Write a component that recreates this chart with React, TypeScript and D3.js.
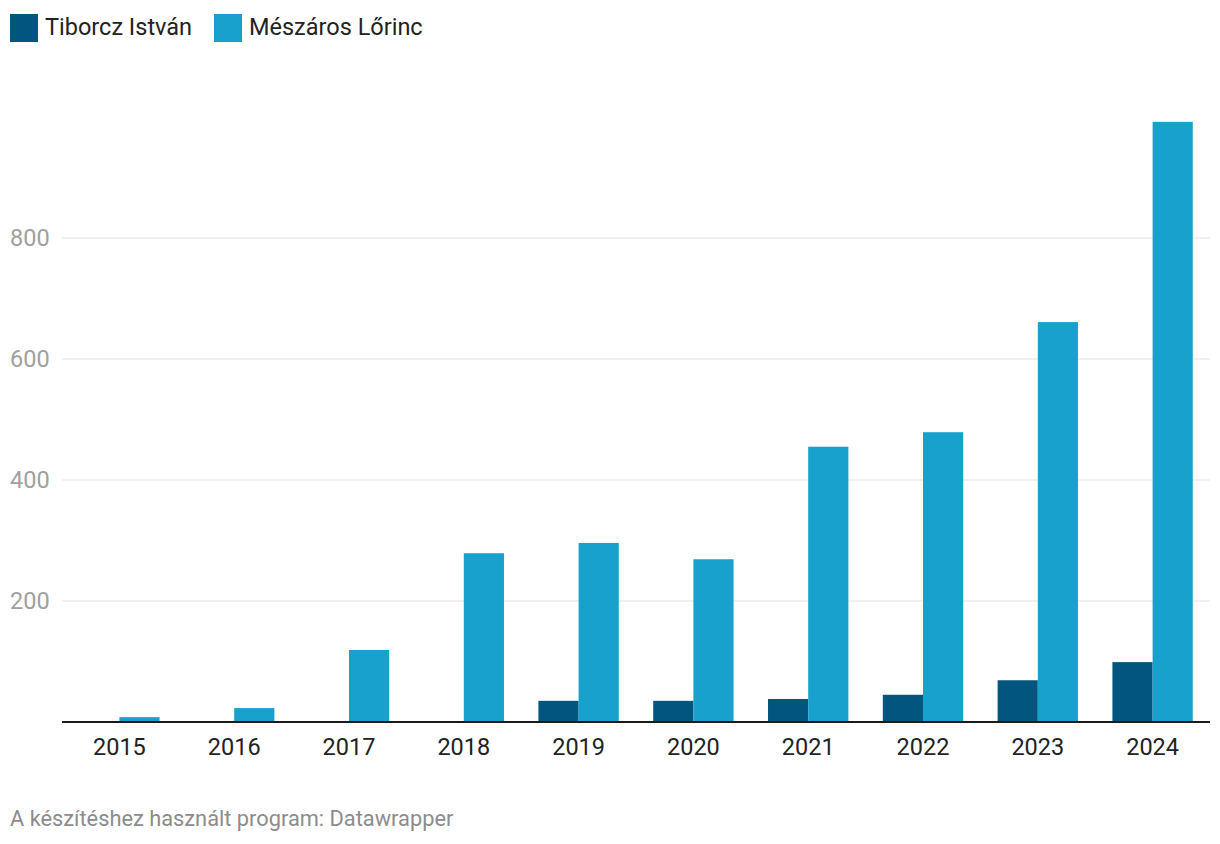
import { useRef, useEffect } from 'react'
import * as d3 from 'd3'

const years = ['2015', '2016', '2017', '2018', '2019', '2020', '2021', '2022', '2023', '2024']
const tiborcz = [0, 0, 0, 0, 35, 35, 38, 45, 69, 99]
const meszaros = [8, 23, 119, 279, 296, 269, 455, 479, 661, 992]
const seriesNames = ['Tiborcz István', 'Mészáros Lőrinc']
const seriesColors = ['#02557e', '#18a1cd']
const yTicks = [200, 400, 600, 800]

const App = () => {
	const svgRef = useRef<SVGSVGElement | null>(null)

	useEffect(() => {
		if (!svgRef.current) return
		const width = 1220
		const height = 844
		const margin = { top: 122, right: 10, bottom: 122, left: 62 }
		const font = 'Roboto, sans-serif'

		const svg = d3.select(svgRef.current)
		svg.selectAll('*').remove()

		const x = d3
			.scaleBand()
			.domain(years)
			.range([margin.left, width - margin.right])
			.paddingInner(0.3)
			.paddingOuter(0.15)

		const y = d3
			.scaleLinear()
			.domain([0, 800])
			.range([height - margin.bottom, 238])

		const xSub = d3
			.scaleBand()
			.domain(seriesNames)
			.range([0, x.bandwidth()])

		// grid lines + labels
		const grid = svg.append('g')
		yTicks.forEach((t) => {
			grid
				.append('line')
				.attr('x1', margin.left)
				.attr('x2', width - margin.right)
				.attr('y1', y(t))
				.attr('y2', y(t))
				.attr('stroke', '#e1e1e1')
				.attr('stroke-width', 1)
			grid
				.append('text')
				.attr('x', 10)
				.attr('y', y(t))
				.attr('dy', '0.35em')
				.attr('font-family', font)
				.attr('font-size', 23.5)
				.attr('fill', '#a0a0a0')
				.text(t)
		})

		const rows = years.map((yr, i) => ({ year: yr, values: [tiborcz[i], meszaros[i]] }))

		const groups = svg
			.append('g')
			.selectAll('g')
			.data(rows)
			.enter()
			.append('g')
			.attr('transform', (d) => `translate(${x(d.year)},0)`)

		groups
			.selectAll('rect')
			.data((d) => d.values.map((v, k) => ({ name: seriesNames[k], v, k })))
			.enter()
			.append('rect')
			.attr('x', (d) => xSub(d.name)!)
			.attr('width', xSub.bandwidth())
			.attr('y', (d) => y(d.v))
			.attr('height', (d) => y(0) - y(d.v))
			.attr('fill', (d) => seriesColors[d.k])

		// baseline
		svg
			.append('line')
			.attr('x1', margin.left)
			.attr('x2', width - margin.right)
			.attr('y1', y(0))
			.attr('y2', y(0))
			.attr('stroke', '#1a1a1a')
			.attr('stroke-width', 2)

		// x labels
		svg
			.append('g')
			.selectAll('text')
			.data(years)
			.enter()
			.append('text')
			.attr('x', (d) => x(d)! + x.bandwidth() / 2)
			.attr('y', y(0) + 25)
			.attr('dy', '0.35em')
			.attr('text-anchor', 'middle')
			.attr('font-family', font)
			.attr('font-size', 23.5)
			.attr('fill', '#222')
			.text((d) => d)

		// legend
		const legendX = [10, 214]
		seriesNames.forEach((name, i) => {
			svg
				.append('rect')
				.attr('x', legendX[i])
				.attr('y', 14)
				.attr('width', 28)
				.attr('height', 28)
				.attr('fill', seriesColors[i])
			svg
				.append('text')
				.attr('x', legendX[i] + 35)
				.attr('y', 27)
				.attr('dy', '0.35em')
				.attr('font-family', font)
				.attr('font-size', 23.5)
				.attr('fill', '#222')
				.text(name)
		})

		// footer
		svg
			.append('text')
			.attr('x', 10)
			.attr('y', 818)
			.attr('dy', '0.35em')
			.attr('font-family', font)
			.attr('font-size', 21.8)
			.attr('fill', '#8c8c8c')
			.text('A készítéshez használt program: Datawrapper')
	}, [])

	return (
		<svg
			ref={svgRef}
			width={1220}
			height={844}
			style={{ position: 'absolute', top: 0, left: 0, background: '#fff' }}
		></svg>
	)
}

export default App
